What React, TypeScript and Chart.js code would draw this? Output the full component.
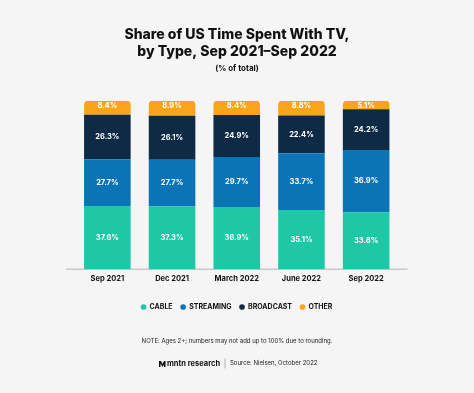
import { useEffect, useRef } from "react";
import { Chart, registerables } from "chart.js";
Chart.register(...registerables);

const categories = ["Sep 2021", "Dec 2021", "March 2022", "June 2022", "Sep 2022"];
const cable = [37.6, 37.3, 36.9, 35.1, 33.8];
const streaming = [27.7, 27.7, 29.7, 33.7, 36.9];
const broadcast = [26.3, 26.1, 24.9, 22.4, 24.2];
const other = [8.4, 8.9, 8.4, 8.8, 5.1];
const seriesNames = ["CABLE", "STREAMING", "BROADCAST", "OTHER"];
const seriesColors = ["#1ec7a6", "#0b74b7", "#0e2a45", "#f9a51b"];
const titleLines = ["Share of US Time Spent With TV,", "by Type, Sep 2021\u2013Sep 2022"];
const subtitleText = "(% of total)";
const noteText = "NOTE: Ages 2+; numbers may not add up to 100% due to rounding.";
const brandText = "mntn research";
const sourceText = "Source: Nielsen, October 2022";

const FONT = "Inter, 'Open Sans', sans-serif";
const BG = "#f5f5f5";

const decorPlugin = {
  id: "decor",
  beforeDraw(chart: any) {
    const { ctx, width, height } = chart;
    ctx.save();
    ctx.fillStyle = BG;
    ctx.fillRect(0, 0, width, height);
    ctx.restore();
  },
  beforeDatasetsDraw(chart: any) {
    const { ctx, chartArea } = chart;
    ctx.save();
    ctx.strokeStyle = "#c8c8c8";
    ctx.lineWidth = 1.5;
    ctx.beginPath();
    ctx.moveTo(chartArea.left - 9, chartArea.bottom);
    ctx.lineTo(chartArea.right + 9, chartArea.bottom);
    ctx.stroke();
    ctx.restore();
  },
  afterDatasetsDraw(chart: any) {
    const { ctx } = chart;
    ctx.save();
    ctx.fillStyle = "#ffffff";
    ctx.font = `bold 7.5px ${FONT}`;
    ctx.textAlign = "center";
    ctx.textBaseline = "middle";
    chart.data.datasets.forEach((ds: any, di: number) => {
      const meta = chart.getDatasetMeta(di);
      meta.data.forEach((el: any, i: number) => {
        const v = ds.data[i];
        const cy = (el.y + el.base) / 2;
        ctx.fillText(v.toFixed(1) + "%", el.x, di === 3 ? el.y + 5 : cy);
      });
    });
    ctx.restore();
  },
  afterDraw(chart: any) {
    const { ctx, width } = chart;
    const cx = width / 2;
    ctx.save();
    ctx.fillStyle = "#111111";
    ctx.textAlign = "center";
    ctx.textBaseline = "middle";
    ctx.font = `800 14px ${FONT}`;
    ctx.fillText(titleLines[0], cx, 35);
    ctx.fillText(titleLines[1], cx, 52);
    ctx.font = `bold 8px ${FONT}`;
    ctx.fillText(subtitleText, cx, 69);
    ctx.font = `6px ${FONT}`;
    ctx.fillStyle = "#222222";
    ctx.fillText(noteText, cx, 341);
    // brand logo mark
    ctx.fillStyle = "#111111";
    ctx.beginPath();
    ctx.moveTo(159, 367);
    ctx.lineTo(159, 361);
    ctx.lineTo(161, 361);
    ctx.lineTo(162.5, 364);
    ctx.lineTo(164, 361);
    ctx.lineTo(165.5, 361);
    ctx.lineTo(165.5, 367);
    ctx.lineTo(164, 367);
    ctx.lineTo(164, 364.5);
    ctx.lineTo(162.5, 367);
    ctx.lineTo(160.5, 363.5);
    ctx.lineTo(160.5, 367);
    ctx.closePath();
    ctx.fill();
    ctx.textAlign = "left";
    ctx.font = `bold 7.5px ${FONT}`;
    ctx.fillText(brandText, 167, 363.7);
    ctx.strokeStyle = "#a0a0a0";
    ctx.lineWidth = 0.8;
    ctx.beginPath();
    ctx.moveTo(225, 358.5);
    ctx.lineTo(225, 368.5);
    ctx.stroke();
    ctx.font = `6px ${FONT}`;
    ctx.fillStyle = "#222222";
    ctx.fillText(sourceText, 230, 363.7);
    ctx.restore();
  },
};

export default function App() {
  const ref = useRef<HTMLCanvasElement>(null);
  useEffect(() => {
    if (!ref.current) return;
    const seriesData = [cable, streaming, broadcast, other];
    const chart = new Chart(ref.current, {
      type: "bar",
      data: {
        labels: categories,
        datasets: seriesData.map((d, i) => ({
          label: seriesNames[i],
          data: d,
          backgroundColor: seriesColors[i],
          borderWidth: 0,
          borderSkipped: i === 3 ? false : "start",
          borderRadius: i === 3 ? { topLeft: 4, topRight: 4, bottomLeft: 0, bottomRight: 0 } : 0,
          barPercentage: 0.8,
          categoryPercentage: 0.9,
        })),
      },
      options: {
        responsive: false,
        animation: false,
        devicePixelRatio: 1,
        layout: { padding: { left: 75, right: 75.5, top: 100.7, bottom: 72.5 } },
        scales: {
          x: {
            stacked: true,
            grid: { display: false, drawTicks: false },
            border: { display: false },
            ticks: { color: "#111", font: { family: FONT, size: 7.5, weight: "bold" }, padding: 5 },
            afterFit: (s: any) => { s.height = 26.2; },
          },
          y: {
            stacked: true,
            display: false,
            min: 0,
            max: 100,
          },
        },
        plugins: {
          legend: {
            position: "bottom",
            labels: {
              usePointStyle: true,
              pointStyle: "circle",
              boxWidth: 5,
              boxHeight: 4,
              padding: 8,
              color: "#111",
              font: { family: FONT, size: 7, weight: "bold" },
            },
          },
          tooltip: { enabled: false },
        },
      },
      plugins: [decorPlugin],
    });
    return () => chart.destroy();
  }, []);
  return (
    <div style={{ position: "fixed", left: 0, top: 0, width: 474, height: 393, background: BG }}>
      <canvas ref={ref} width={474} height={393} />
    </div>
  );
}
